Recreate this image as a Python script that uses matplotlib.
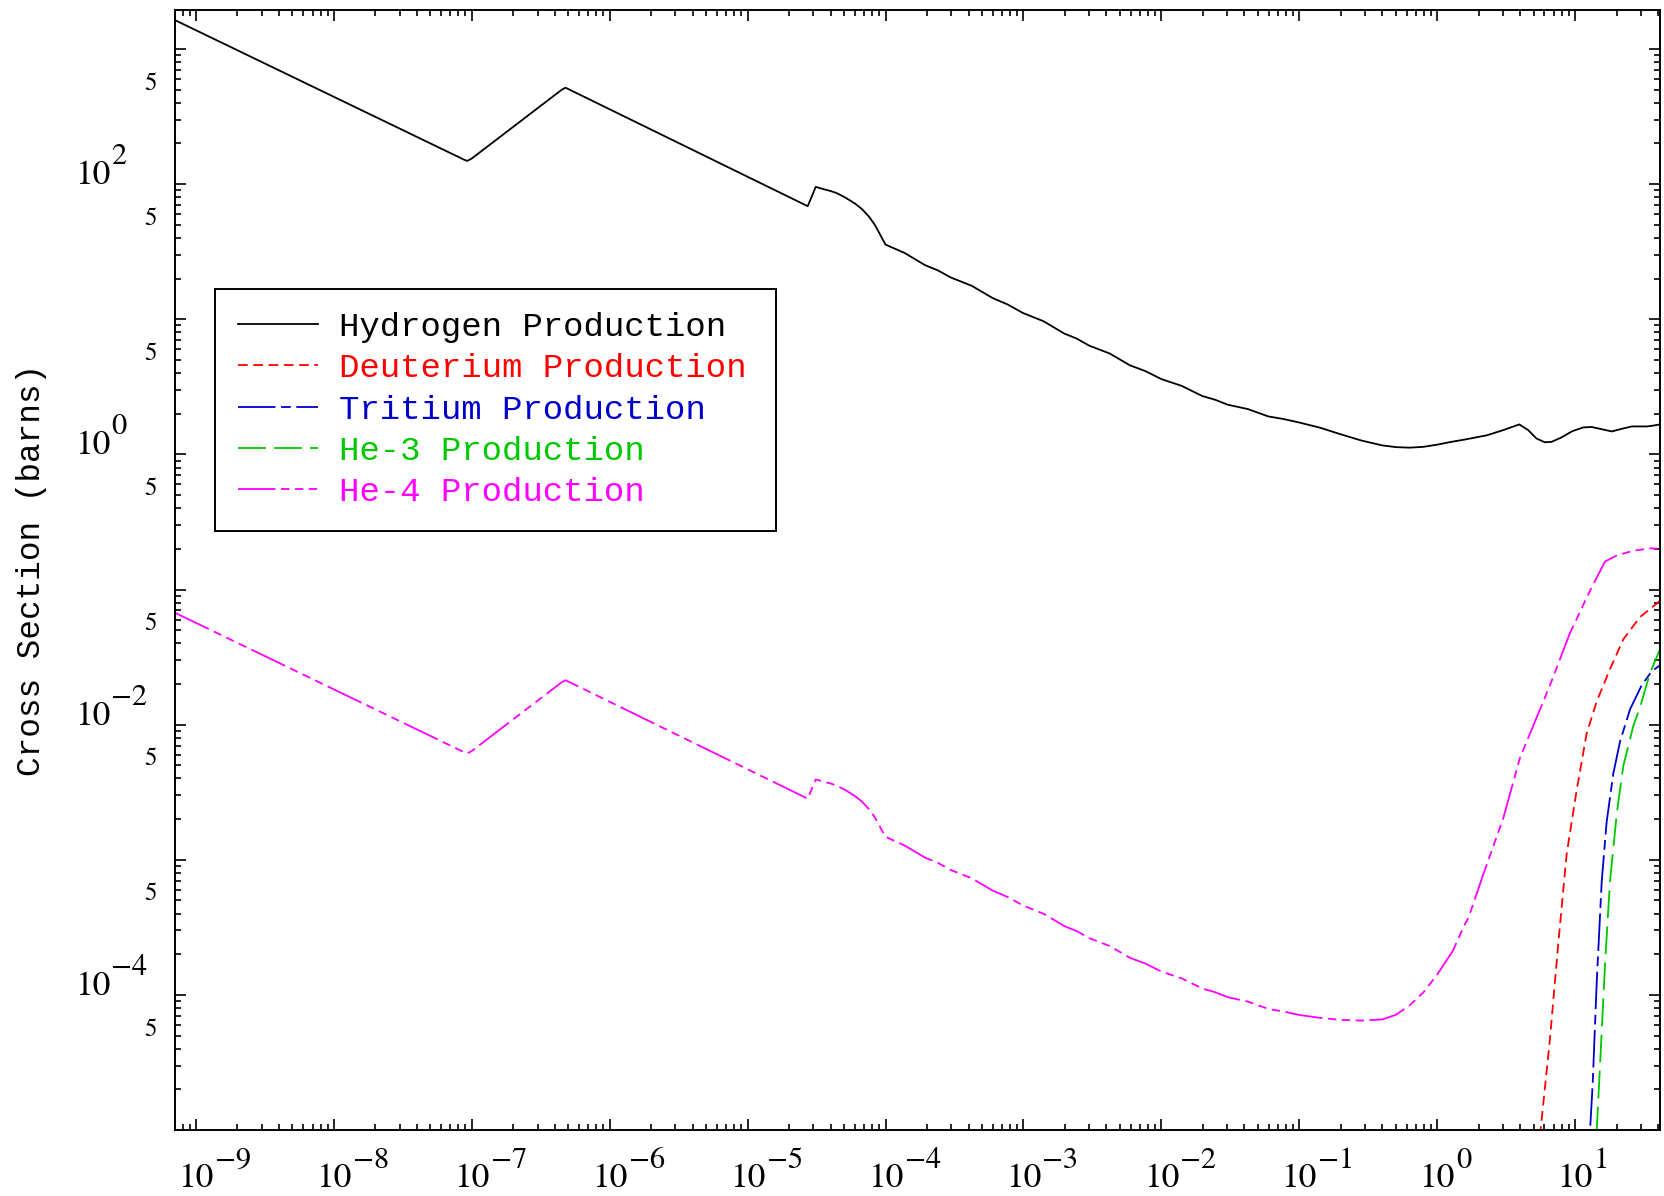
import numpy as np
import matplotlib
matplotlib.use('Agg')
import matplotlib.pyplot as plt
from matplotlib.ticker import FixedLocator, FuncFormatter, NullFormatter

# ---------------- data (log10 of energy, log10 of cross section) ----------------
h_logE = [-9.152, -7.10, -7.06, -7.033, -7.00, -6.35, -6.321, -6.29, -4.564, -4.506,
          -4.45, -4.40, -4.359, -4.30, -4.222, -4.17, -4.120, -4.08, -4.051, -4.025,
          -4.000, -3.86, -3.712, -3.62, -3.526, -3.375,
          -3.225, -3.115, -3.004, -2.853, -2.703, -2.613, -2.523, -2.375, -2.227, -2.114,
          -2.001, -1.852, -1.703, -1.611, -1.519, -1.371, -1.224, -1.114, -1.004, -0.85,
          -0.703, -0.55, -0.40, -0.30, -0.20, -0.10, 0.00, 0.093, 0.20, 0.359,
          0.48, 0.596, 0.66, 0.72, 0.78, 0.83, 0.90, 0.98, 1.06, 1.12,
          1.20, 1.266, 1.33, 1.411, 1.52, 1.56, 1.616]
h_logS = [3.214, 2.203, 2.183, 2.172, 2.190, 2.697, 2.714, 2.699, 1.837, 1.980,
          1.963, 1.950, 1.936, 1.906, 1.857, 1.815, 1.760, 1.703, 1.650, 1.600,
          1.553, 1.490, 1.400, 1.362, 1.309, 1.248,
          1.158, 1.110, 1.047, 0.985, 0.894, 0.857, 0.805, 0.747, 0.659, 0.616,
          0.558, 0.507, 0.432, 0.405, 0.368, 0.335, 0.281, 0.262, 0.237, 0.198,
          0.150, 0.103, 0.067, 0.054, 0.050, 0.056, 0.072, 0.091, 0.110, 0.141,
          0.180, 0.222, 0.180, 0.118, 0.090, 0.093, 0.125, 0.172, 0.200, 0.203,
          0.185, 0.170, 0.187, 0.207, 0.207, 0.212, 0.222]

he4_logE = [-9.152, -7.10, -7.06, -7.033, -7.00, -6.35, -6.321, -6.29, -4.564, -4.506,
            -4.45, -4.40, -4.359, -4.30, -4.222, -4.17, -4.120, -4.08, -4.051, -4.025,
            -4.000, -3.86, -3.712, -3.62, -3.526, -3.375,
            -3.225, -3.115, -3.004, -2.853, -2.703, -2.613, -2.523, -2.375, -2.227, -2.114,
            -2.001, -1.852, -1.703, -1.611, -1.519, -1.371, -1.224, -1.114, -1.004, -0.85,
            -0.703, -0.55, -0.40, -0.30, -0.20, -0.10, 0.00, 0.114, 0.19, 0.228,
            0.335, 0.48, 0.601, 0.673, 0.818, 0.963, 1.108, 1.217, 1.302, 1.422,
            1.543, 1.616]
he4_logS = [-1.172, -2.182, -2.202, -2.213, -2.195, -1.688, -1.671, -1.686, -2.548, -2.405,
            -2.422, -2.435, -2.449, -2.479, -2.528, -2.570, -2.625, -2.682, -2.735, -2.785,
            -2.830, -2.895, -2.985, -3.023, -3.076, -3.137,
            -3.227, -3.275, -3.338, -3.400, -3.491, -3.528, -3.580, -3.638, -3.726, -3.769,
            -3.827, -3.878, -3.953, -3.980, -4.017, -4.050, -4.104, -4.123, -4.148, -4.170,
            -4.185, -4.190, -4.182, -4.148, -4.078, -3.982, -3.850, -3.674, -3.500, -3.427,
            -3.107, -2.691, -2.244, -2.067, -1.709, -1.322, -1.010, -0.793, -0.748, -0.713,
            -0.695, -0.698]

d_logE = [0.735, 0.750, 0.818, 0.879, 0.939, 1.012, 1.084, 1.157, 1.253, 1.350, 1.471, 1.616]
d_logS = [-5.5, -5.0, -4.327, -3.613, -2.959, -2.483, -2.066, -1.828, -1.590, -1.368, -1.204, -1.084]

t_logE = [1.100, 1.109, 1.128, 1.157, 1.193, 1.229, 1.277, 1.326, 1.398, 1.483, 1.556, 1.616]
t_logS = [-5.4, -5.0, -4.654, -3.910, -3.167, -2.721, -2.364, -2.126, -1.888, -1.709, -1.605, -1.561]

he3_logE = [1.150, 1.157, 1.182, 1.218, 1.253, 1.302, 1.350, 1.423, 1.471, 1.543, 1.616]
he3_logS = [-5.3, -5.0, -4.505, -3.762, -3.167, -2.662, -2.305, -2.007, -1.873, -1.620, -1.442]

series_labels = ['Hydrogen Production', 'Deuterium Production', 'Tritium Production',
                 'He-3 Production', 'He-4 Production']
x_tick_exponents = list(range(-9, 2))
y_major_exponents = list(range(-5, 4))
y_labelled_exponents = [2, 0, -2, -4]
y_minor_label_mantissa = 5

# ---------------- styling ----------------
plt.rcParams['lines.scale_dashes'] = False

W, H = 1665, 1196
fig = plt.figure(figsize=(W / 100, H / 100), dpi=100)
L, R, T, B = 175, 1660, 10, 1130
ax = fig.add_axes([L / W, 1 - B / H, (R - L) / W, (B - T) / H])
ax.set_xscale('log')
ax.set_yscale('log')

def lin(v):
    return np.power(10.0, np.asarray(v))

ax.plot(lin(h_logE), lin(h_logS), color='black', lw=1.3, label=series_labels[0])
ax.plot(lin(d_logE), lin(d_logS), color='#ff0000', lw=1.3, dashes=(7, 4), label=series_labels[1])
ax.plot(lin(t_logE), lin(t_logS), color='#0000cc', lw=1.3, dashes=(27, 4, 7, 4), label=series_labels[2])
ax.plot(lin(he3_logE), lin(he3_logS), color='#00c800', lw=1.3, dashes=(20, 6), label=series_labels[3])
ax.plot(lin(he4_logE), lin(he4_logS), color='#ff00ff', lw=1.3,
        dashes=(27, 4, 6, 4, 6, 4, 6, 4), label=series_labels[4])

ax.set_xlim(10 ** -9.152, 10 ** 1.616)
ax.set_ylim(1e-5, 10 ** 3.289)

# ticks
ax.xaxis.set_major_locator(FixedLocator([10.0 ** k for k in x_tick_exponents]))
ax.xaxis.set_minor_locator(FixedLocator([m * 10.0 ** k for k in range(-10, 2) for m in range(2, 10)]))
ax.xaxis.set_major_formatter(NullFormatter())
ax.xaxis.set_minor_formatter(NullFormatter())

ax.yaxis.set_major_locator(FixedLocator([10.0 ** k for k in y_major_exponents]))
ax.yaxis.set_minor_locator(FixedLocator([m * 10.0 ** k for k in range(-6, 4) for m in range(2, 10)]))
ax.yaxis.set_major_formatter(NullFormatter())

def ymin(v, p):
    e = int(np.floor(np.log10(v) + 1e-9))
    m = v / 10.0 ** e
    return '5' if abs(m - y_minor_label_mantissa) < 1e-6 else ''

ax.yaxis.set_minor_formatter(FuncFormatter(ymin))

ax.tick_params(which='both', direction='in', top=True, right=True, width=1.2, colors='black')
ax.tick_params(which='major', length=8)
ax.tick_params(which='minor', length=4)
ax.tick_params(axis='y', which='minor', labelsize=18, pad=13)
for lab in ax.get_yticklabels(minor=True):
    lab.set_fontfamily('STIXGeneral')
    lab.set_va('baseline')

for sp in ax.spines.values():
    sp.set_linewidth(1.4)

# IDL-style power-of-ten labels: "10" plus a large raised exponent
PX = 0.72  # points per pixel at 100 dpi
BASE_FS, SUP_FS = 25.5, 22

def power_label(xy, coords, base_off, base_ha, sup_off, k):
    kw = dict(xy=xy, xycoords=coords, textcoords='offset points', va='baseline',
              family='STIXGeneral', annotation_clip=False, color='black')
    ax.annotate('10', xytext=(base_off[0] * PX, base_off[1] * PX), ha=base_ha,
                fontsize=BASE_FS, **kw)
    exp_txt = ('\u2212' if k < 0 else '') + str(abs(k))
    ax.annotate(exp_txt, xytext=(sup_off[0] * PX, sup_off[1] * PX), ha='left',
                fontsize=SUP_FS, **kw)

for k in x_tick_exponents:
    power_label((10.0 ** k, 0), ('data', 'axes fraction'), (0, -57), 'center', (19, -38), k)
for k in y_labelled_exponents:
    power_label((0, 10.0 ** k), ('axes fraction', 'data'), (-100, 0), 'left', (-64, 20), k)

ax.set_ylabel('Cross Section (barns)', fontsize=23.5, family='Liberation Mono')
ax.yaxis.set_label_coords((47 - L) / (R - L), 0.5)

x0 = (215 - L) / (R - L)
y_top = (B - 289) / (B - T)
leg = ax.legend(loc='upper left', bbox_to_anchor=(x0, y_top - 0.3, (776 - 215) / (R - L), 0.3),
                mode='expand', borderaxespad=0, prop={'family': 'Liberation Mono', 'size': 24.5},
                labelcolor='linecolor', frameon=True, fancybox=False, edgecolor='black',
                framealpha=1, handlelength=2.35, handletextpad=0.62, labelspacing=0.3,
                borderpad=0.68)
leg.get_frame().set_linewidth(1.4)

fig.savefig('out.png', dpi=100)
